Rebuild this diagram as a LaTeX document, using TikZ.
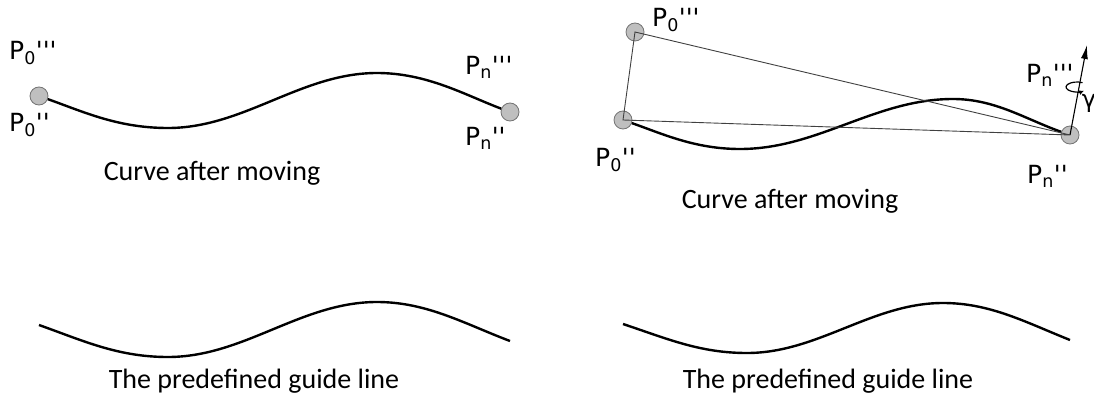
\documentclass[tikz,border=0pt]{standalone}
\usepackage{fontspec}
\setmainfont{Carlito}
\newfontfamily\lblfont{DejaVu Sans}
\usetikzlibrary{arrows.meta}
\newcommand{\tck}{\textquotesingle}

\begin{document}
\begin{tikzpicture}[x=1pt, y=-1pt,
  dot/.style={circle, draw=gray!90!black, line width=0.8pt, fill=gray!50, minimum size=18pt, inner sep=0pt},
  lbl/.style={anchor=base west, inner sep=0pt, font=\lblfont\fontsize{25}{30}\selectfont},
  captxt/.style={anchor=base, inner sep=0pt, font=\fontsize{28}{32}\selectfont},
  curve/.style={line width=2.4pt, black},
  aux/.style={line width=0.9pt, black!75}]
  \useasboundingbox (0,0) rectangle (1094,398);
  % left panel
  \node[dot] (a0) at (39,96) {};
  \node[dot] (an) at (510,112) {};
  \draw[curve] (a0) .. controls (84,112) and (118,128) .. (168,128)
    .. controls (244,128) and (301,73) .. (377,73)
    .. controls (427,73) and (465,95) .. (an);
  \node[lbl] (a0t) at (9,60) {P\textsubscript{0}\tck\tck\tck};
  \node[lbl] (a0b) at (9,132) {P\textsubscript{0}\tck\tck};
  \node[lbl] (ant) at (465,75) {P\textsubscript{n}\tck\tck\tck};
  \node[lbl] (anb) at (465,146) {P\textsubscript{n}\tck\tck};
  \node[captxt] (acap) at (212,181) {Curve after moving};
  % left guide line
  \coordinate (gas) at (39,325);
  \coordinate (gae) at (510,341);
  \draw[curve] (gas) .. controls (84,341) and (118,357) .. (168,357)
    .. controls (244,357) and (301,302) .. (377,302)
    .. controls (427,302) and (465,324) .. (gae);
  \node[captxt] (gacap) at (254,388) {The predefined guide line};
  % right panel
  \node[dot] (b0t) at (635,32) {};
  \node[dot] (b0) at (623,120) {};
  \node[dot] (bn) at (1070,135) {};
  \draw[curve] (b0) .. controls (663,134) and (695,149) .. (740,149)
    .. controls (818,149) and (875,99) .. (953,99)
    .. controls (995,99) and (1025,119) .. (bn);
  \draw[aux] (b0t.center) -- (b0.center) -- (bn.center) -- cycle;
  \coordinate (gtip) at (1087,45);
  \draw[-{Latex[length=14pt,width=7pt]}, line width=1.1pt] (bn.center) -- (gtip);
  \coordinate (rot) at (1077,87);
  \draw[-{Latex[length=5pt,width=5pt]}, line width=1.2pt] (rot) ++(300:11 and 5)
    arc[start angle=300, end angle=50, x radius=11, y radius=5];
  \node[inner sep=0pt, font=\lblfont\fontsize{24}{26}\selectfont] (gam) at (1089,103) {γ};
  \node[lbl] (b0tl) at (652,27) {P\textsubscript{0}\tck\tck\tck};
  \node[lbl] (b0l) at (595,167) {P\textsubscript{0}\tck\tck};
  \node[lbl] (bntl) at (1026,83) {P\textsubscript{n}\tck\tck\tck};
  \node[lbl] (bnl) at (1027,184) {P\textsubscript{n}\tck\tck};
  \node[captxt] (bcap) at (790,208) {Curve after moving};
  % right guide line
  \coordinate (gbs) at (623,324);
  \coordinate (gbe) at (1070,340);
  \draw[curve] (gbs) .. controls (668,339) and (700,353) .. (747,353)
    .. controls (818,353) and (872,303) .. (943,303)
    .. controls (990,303) and (1025,322) .. (gbe);
  \node[captxt] (gbcap) at (828,388) {The predefined guide line};
\end{tikzpicture}
\end{document}
